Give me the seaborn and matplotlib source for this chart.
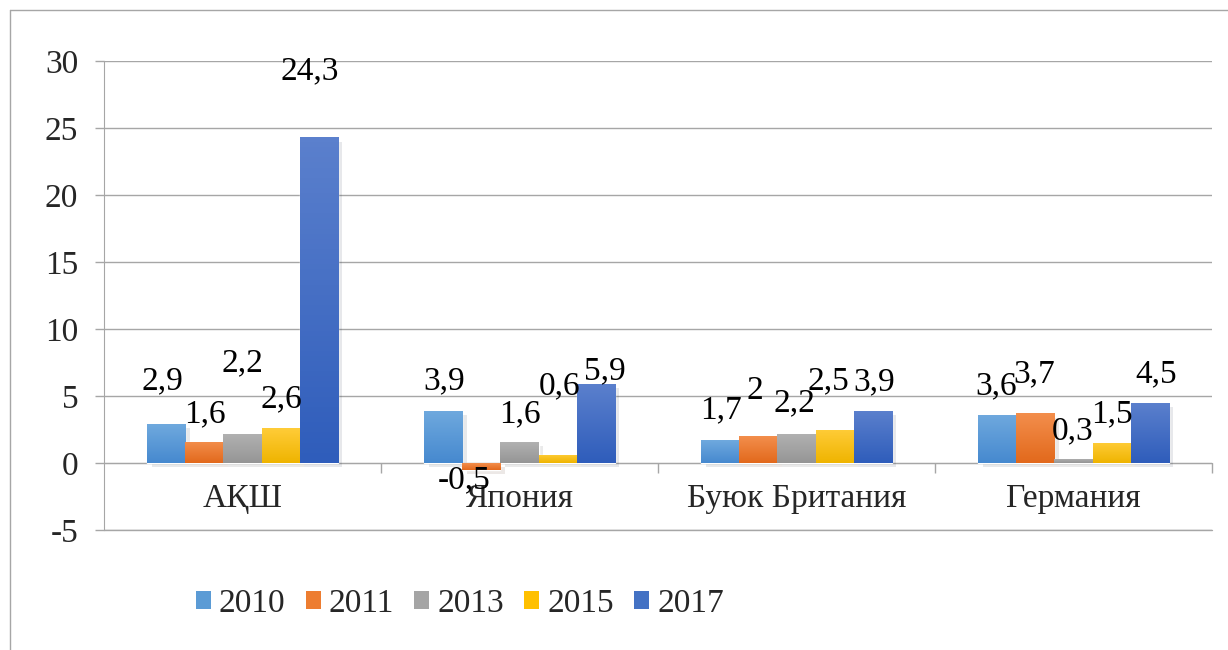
import numpy as np
import pandas as pd
import seaborn as sns
import matplotlib.pyplot as plt
import matplotlib.patheffects as pe
from matplotlib.patches import Patch
from matplotlib.lines import Line2D
from matplotlib.colors import to_rgb

countries = ["АҚШ", "Япония", "Буюк Британия", "Германия"]
years = ["2010", "2011", "2013", "2015", "2017"]
v2010 = [2.9, 3.9, 1.7, 3.6]
v2011 = [1.6, -0.5, 2.0, 3.7]
v2013 = [2.2, 1.6, 2.2, 0.3]
v2015 = [2.6, 0.6, 2.5, 1.5]
v2017 = [24.3, 5.9, 3.9, 4.5]
yticks = [-5, 0, 5, 10, 15, 20, 25, 30]

# label nudges in pixels (dx, dy from bar end), same order as the values
off2010 = [(-4, 43), (1, 30), (1, 30), (-1, 29)]
off2011 = [(0, 28), (-17, -10), (-4, 45), (-1, 39)]
off2013 = [(0, 70), (0, 28), (-2, 30), (-1, 28)]
off2015 = [(1, 29), (2, 69), (-6, 48), (0, 29)]
off2017 = [(-9, 66), (9, 13), (2, 29), (7, 29)]
offsets = [off2010, off2011, off2013, off2015, off2017]

base = ["#5B9BD5", "#ED7D31", "#A5A5A5", "#FFC000", "#4472C4"]
tops = ["#6fa9de", "#f38e4c", "#b2b2b2", "#ffcc38", "#5b80cd"]
bottoms = ["#4689cf", "#e2691c", "#959595", "#efb400", "#2f5dbb"]
grey = "#a6a6a6"

df = pd.DataFrame({
    "country": countries * 5,
    "year": np.repeat(years, 4),
    "value": v2010 + v2011 + v2013 + v2015 + v2017,
})

sns.set_style("white")
plt.rcParams["font.family"] = ["Liberation Serif", "DejaVu Serif"]
fs = 24

fig = plt.figure(figsize=(12.28, 6.5), dpi=100)
ax = fig.add_axes([104 / 1228, 1 - 530 / 650, (1212 - 104) / 1228, (530 - 61) / 650])

sns.barplot(data=df, x="country", y="value", hue="year", hue_order=years,
            order=countries, palette=dict(zip(years, base)), width=0.686,
            saturation=1, errorbar=None, legend=False, ax=ax, zorder=3)

for i, cont in enumerate(ax.containers):
    c0 = np.array(to_rgb(tops[i]))
    c1 = np.array(to_rgb(bottoms[i]))
    grad = np.linspace(0, 1, 64)[:, None, None]
    img = (c0 * (1 - grad) + c1 * grad)
    for j, bar in enumerate(cont):
        bar.set_path_effects([pe.SimplePatchShadow(offset=(3, -3), alpha=0.1),
                              pe.Normal()])
        x0 = bar.get_x()
        w = bar.get_width()
        y0 = bar.get_y()
        h = bar.get_height()
        lo, hi = min(y0, y0 + h), max(y0, y0 + h)
        im = ax.imshow(img, extent=(x0, x0 + w, lo, hi), aspect="auto",
                       origin="upper", zorder=3.5)
        im.set_clip_path(bar)
        txt = f"{h:g}".replace(".", ",")
        dx, dy = offsets[i][j]
        ax.annotate(txt, (x0 + w / 2, y0 + h), xytext=(dx, dy),
                    textcoords="offset pixels", ha="center", va="center",
                    fontsize=fs, color="black", zorder=5)

ax.set_xlim(-0.5, 3.5)
ax.set_ylim(-5, 30)
ax.set_yticks(yticks)
ax.set_yticklabels([str(t) for t in yticks])
ax.set_xlabel("")
ax.set_ylabel("")

ax.set_axisbelow(True)
ax.yaxis.grid(True, color=grey, lw=1)
ax.xaxis.grid(False)
ax.axhline(-5, color=grey, lw=1, clip_on=False, zorder=0.5)
for s in ["top", "right"]:
    ax.spines[s].set_visible(False)
ax.spines["left"].set_color(grey)
ax.spines["bottom"].set_color(grey)
ax.spines["bottom"].set_position(("data", 0))

ax.tick_params(axis="y", length=6.5, color=grey, width=1, pad=12,
               labelsize=fs, left=True)
ax.set_xticks([0.5, 1.5, 2.5, 3.5], minor=True)
ax.tick_params(axis="x", which="major", length=0, pad=15, labelsize=fs)
ax.tick_params(axis="x", which="minor", length=7, color=grey, width=1,
               bottom=True, direction="out")

# outer chart frame (only top and left edges visible)
fig.add_artist(Line2D([10 / 1228, 1], [1 - 10 / 650] * 2,
                      transform=fig.transFigure, color=grey, lw=1))
fig.add_artist(Line2D([10 / 1228] * 2, [0, 1 - 10 / 650],
                      transform=fig.transFigure, color=grey, lw=1))

handles = [Patch(facecolor=c, edgecolor="none") for c in base]
fig.legend(handles, years, loc="center", bbox_to_anchor=(460 / 1228, 1 - 604 / 650),
           ncol=5, frameon=False, fontsize=fs, handlelength=0.45,
           handleheight=0.45, handletextpad=0.25, columnspacing=0.6)

fig.savefig("out.png", dpi=100)
